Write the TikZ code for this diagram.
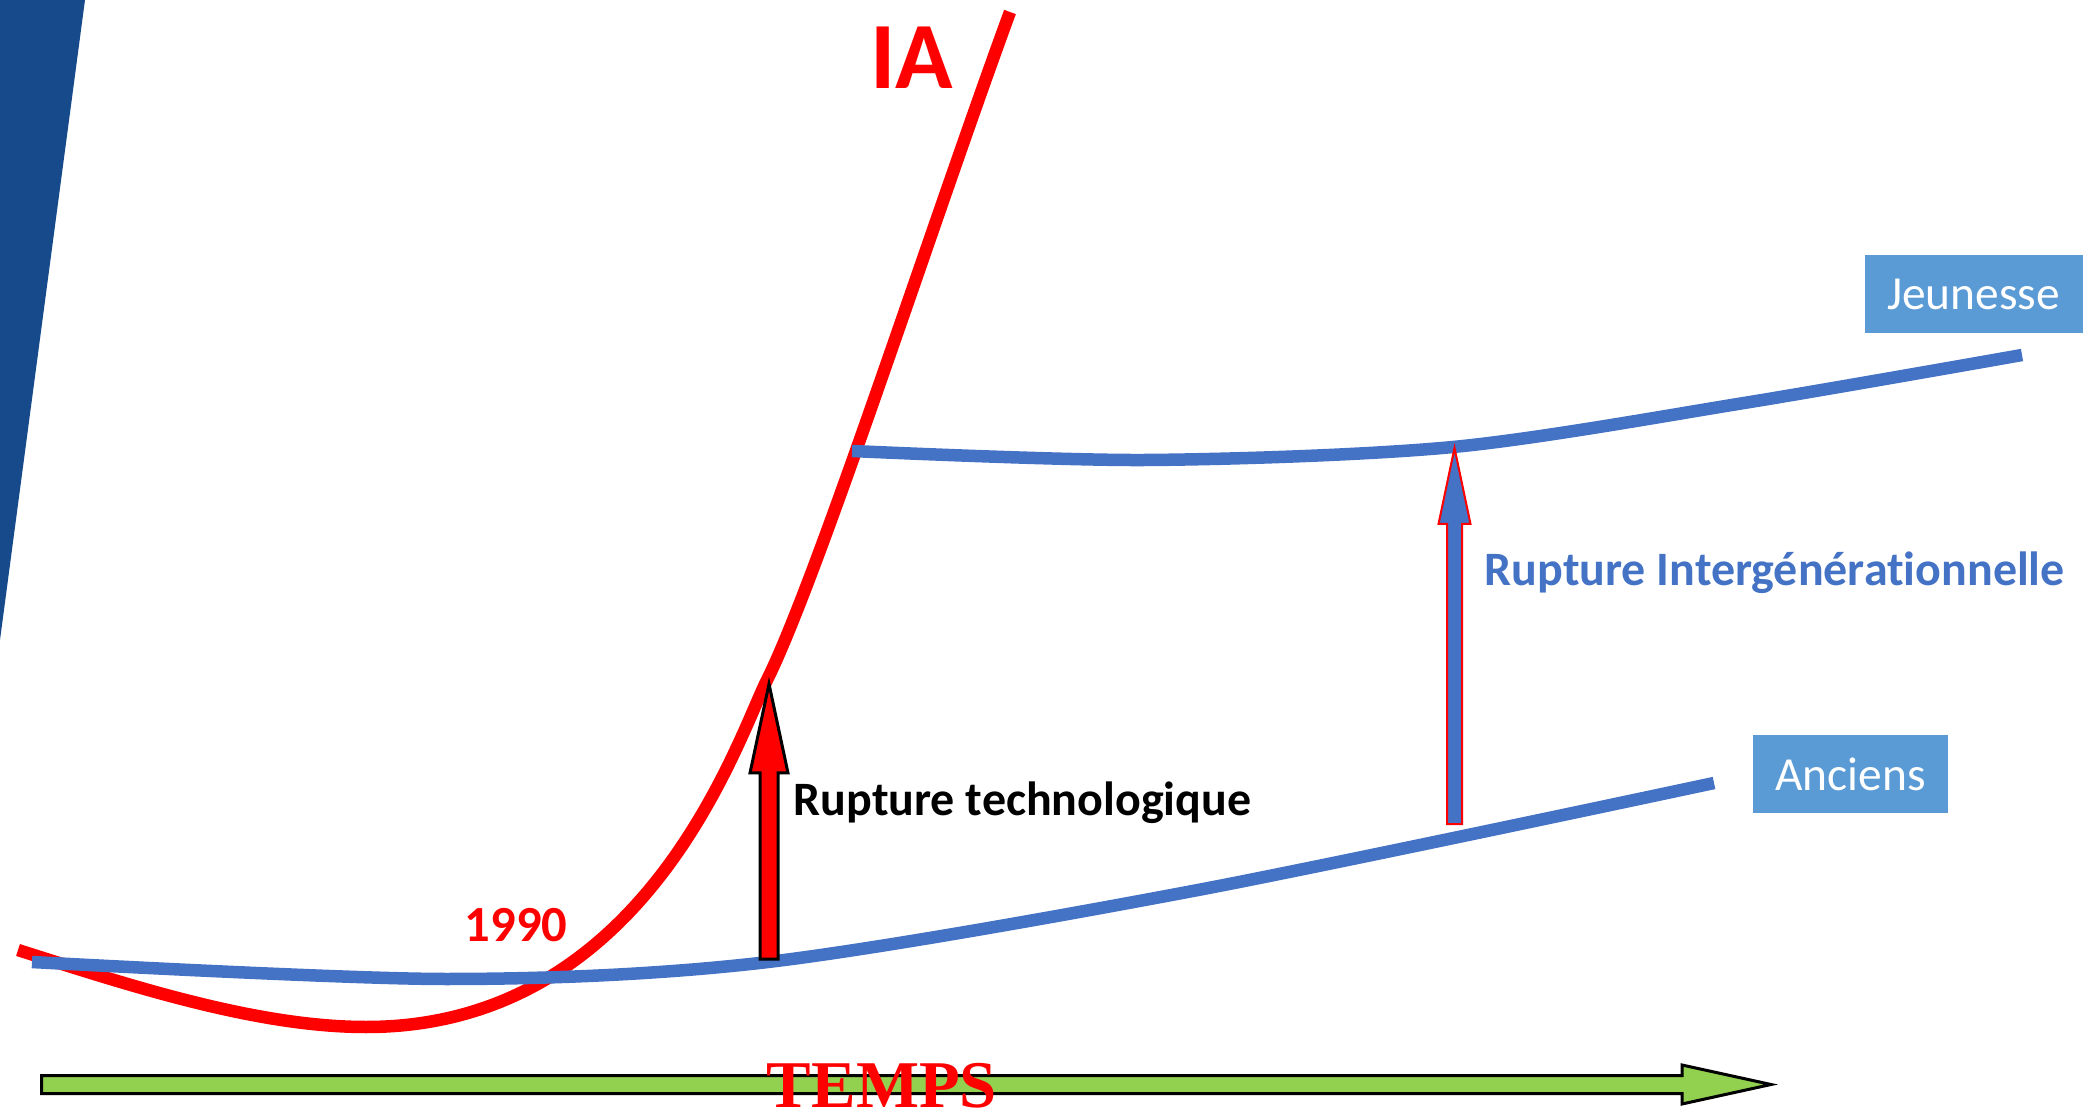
\documentclass[tikz,border=0pt]{standalone}
\usepackage{fontspec}
\setmainfont[Ligatures=NoCommon]{Carlito}
\newfontfamily\tempsfont{Liberation Serif}
\usepackage{tikz}
\definecolor{iared}{RGB}{255,0,0}
\definecolor{genblue}{RGB}{68,114,196}
\definecolor{boxblue}{RGB}{91,155,213}
\definecolor{timegreen}{RGB}{146,208,80}
\definecolor{barblue}{RGB}{22,74,138}

% block arrow pointing up: style, foot, tip, shaft half width, head half width, head length
\newcommand{\blockup}[6]{%
	\draw[#1] ([xshift=-#4]#2) -- ([xshift=-#4,yshift=-#6]#3) -- ([xshift=-#5,yshift=-#6]#3) -- (#3)
	-- ([xshift=#5,yshift=-#6]#3) -- ([xshift=#4,yshift=-#6]#3) -- ([xshift=#4]#2) -- cycle;}

\begin{document}
\begin{tikzpicture}[x=0.1mm,y=-0.1mm,
	iacurve/.style={iared,line width=1.25mm},
	gencurve/.style={genblue,line width=1.25mm},
	genbox/.style={fill=boxblue,text=white,font=\fontsize{13.5}{16}\selectfont,minimum height=7.8mm,inner sep=0pt},
	rupture/.style={font=\bfseries\fontsize{13.65}{16}\selectfont,inner sep=0pt,anchor=base west}]
	\useasboundingbox (0,0) rectangle (2088,1117);
	\fill[barblue] (0,0) -- (85,0) -- (0,640) -- cycle;
	% curves
	\draw[iacurve] (18,950) .. controls (128,985) and (256,1027) .. (366,1027)
		.. controls (646,1027) and (737,740) .. (767,680)
		.. controls (817,580) and (935,216) .. (1010,12);
	\draw[gencurve] plot[smooth] coordinates {(32,962) (446,979) (768,962) (1198,890) (1714,783)};
	\draw[gencurve] plot[smooth] coordinates {(852,451) (1145,460) (1453,447) (1744,403) (2022,355)};
	\coordinate (techfoot) at (769,959);
	\coordinate (techtip) at (769,684);
	\coordinate (genfoot) at (1454.5,824);
	\coordinate (gentip) at (1454.5,448);
	\coordinate (timefoot) at (41.5,1084.5);
	\coordinate (timetip) at (1771,1084.5);
	% ruptures
	\blockup{fill=iared,draw=black,line width=0.3mm}{techfoot}{techtip}{0.9mm}{1.9mm}{8.9mm}
	\blockup{fill=genblue,draw=iared,line width=0.2mm}{genfoot}{gentip}{0.75mm}{1.6mm}{7.6mm}
	% time axis
	\draw[fill=timegreen,draw=black,line width=0.3mm] ([yshift=0.9mm]timefoot) -- ([xshift=-8.9mm,yshift=0.9mm]timetip)
		-- ([xshift=-8.9mm,yshift=1.95mm]timetip) -- (timetip) -- ([xshift=-8.9mm,yshift=-1.95mm]timetip)
		-- ([xshift=-8.9mm,yshift=-0.9mm]timetip) -- ([yshift=-0.9mm]timefoot) -- cycle;
	% labels
	\node[font=\bfseries\fontsize{27}{30}\selectfont,text=iared,inner sep=0pt] (ia) at (912,58) {IA};
	\node[font=\bfseries\fontsize{14.4}{17}\selectfont,text=iared,inner sep=0pt] (year) at (516,925) {1990};
	\node[rupture] (techlabel) at (793,815) {Rupture technologique};
	\node[rupture,text=genblue] (genlabel) at (1484,586) {Rupture Intergénérationnelle};
	\node[genbox,minimum width=21.8mm] (jeunesse) at (1973.5,294) {Jeunesse};
	\node[genbox,minimum width=19.5mm] (anciens) at (1850.5,774) {Anciens};
	\node[font=\tempsfont\bfseries\fontsize{19}{22}\selectfont,text=iared,inner sep=0pt] (temps) at (882,1086) {TEMPS};
\end{tikzpicture}
\end{document}
